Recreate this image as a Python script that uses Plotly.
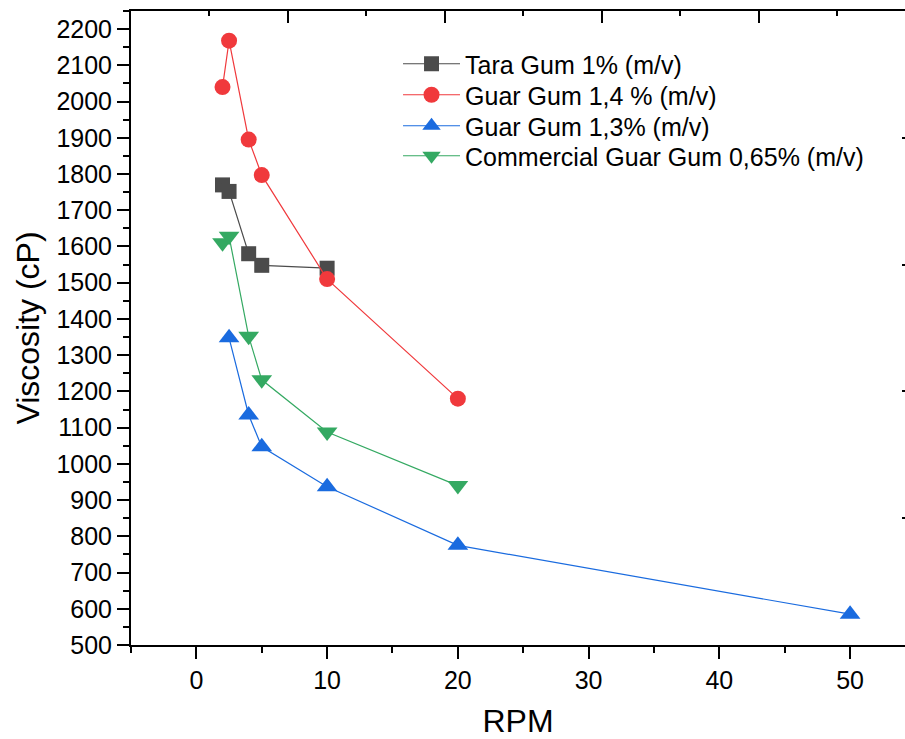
import plotly.graph_objects as go

# ---- data ----
tara_x = [2, 2.5, 4, 5, 10]
tara_y = [1770, 1752, 1580, 1548, 1540]

guar14_x = [2, 2.5, 4, 5, 10, 20]
guar14_y = [2040, 2168, 1895, 1797, 1510, 1180]

guar13_x = [2.5, 4, 5, 10, 20, 50]
guar13_y = [1348, 1135, 1047, 937, 775, 585]

comm_x = [2, 2.5, 4, 5, 10, 20]
comm_y = [1610, 1628, 1352, 1232, 1088, 940]

x_ticks = [0, 10, 20, 30, 40, 50]
y_ticks = list(range(500, 2201, 100))
top_major = [7, 19, 31, 43]
top_minor = [1, 13, 25, 37, 49]
right_ticks = [850, 1200, 1550, 1900]

XR = [-5, 54.2]
YR = [500, 2250]
FONT = "Liberation Sans, Arial, sans-serif"

fig = go.Figure()

series = [
    ("Tara Gum 1% (m/v)", tara_x, tara_y, "#4b4b4b", "square", 15, "legend"),
    ("Guar Gum 1,4 % (m/v)", guar14_x, guar14_y, "#F0393C", "circle", 16, "legend2"),
    ("Guar Gum 1,3% (m/v)", guar13_x, guar13_y, "#1A6BDF", "triangle-up", 18, "legend3"),
    ("Commercial Guar Gum 0,65% (m/v)", comm_x, comm_y, "#34A962", "triangle-down", 18, "legend4"),
]
for name, xs, ys, col, sym, sz, lg in series:
    fig.add_trace(go.Scatter(
        x=xs, y=ys, name=name, mode="lines+markers", legend=lg,
        line=dict(color=col, width=1.2),
        marker=dict(symbol=sym, size=sz, color=col, line=dict(width=0)),
    ))

# helper trace to activate secondary axes (top/right frame ticks)
fig.add_trace(go.Scatter(x=[], y=[], xaxis="x2", yaxis="y2", showlegend=False,
                         hoverinfo="skip"))

row_centers = [64, 95, 126, 156]  # legend row centres in px from top
plot_top, plot_h = 11, 634


def leg(yc):
    return dict(x=0.345, y=(plot_top + plot_h - yc) / plot_h, xanchor="left",
                yanchor="middle", bgcolor="rgba(0,0,0,0)",
                font=dict(size=25, family=FONT), itemwidth=57)


fig.update_layout(
    width=905, height=739,
    margin=dict(l=131, r=0, t=11, b=94),
    paper_bgcolor="white", plot_bgcolor="white",
    font=dict(family=FONT, color="black", size=25),
    showlegend=True,
    legend=leg(row_centers[0]),
    legend2=leg(row_centers[1]),
    legend3=leg(row_centers[2]),
    legend4=leg(row_centers[3]),
    xaxis=dict(
        range=XR, tickmode="array", tickvals=x_ticks,
        ticks="outside", ticklen=12, tickwidth=2, tickcolor="black",
        showline=True, linewidth=2, linecolor="black",
        showgrid=False, zeroline=False,
        tickfont=dict(size=25, family=FONT),
        minor=dict(dtick=5, tick0=-5, ticks="outside", ticklen=6, tickwidth=2,
                   tickcolor="black", showgrid=False),
        title=dict(text="RPM", font=dict(size=32, family=FONT), standoff=20),
    ),
    yaxis=dict(
        range=YR, tickmode="array", tickvals=y_ticks,
        ticks="outside", ticklen=12, tickwidth=2, tickcolor="black",
        showline=True, linewidth=2, linecolor="black",
        showgrid=False, zeroline=False,
        tickfont=dict(size=25, family=FONT),
        minor=dict(dtick=50, tick0=500, ticks="outside", ticklen=6, tickwidth=2,
                   tickcolor="black", showgrid=False),
        title=dict(text="Viscosity (cP)", font=dict(size=32, family=FONT), standoff=7),
    ),
    xaxis2=dict(
        range=XR, overlaying="x", side="top", anchor="y2",
        tickmode="array", tickvals=top_major, showticklabels=False,
        ticks="inside", ticklen=12, tickwidth=2, tickcolor="black",
        showline=True, linewidth=2, linecolor="black",
        showgrid=False, zeroline=False,
        minor=dict(tickmode="array", tickvals=top_minor, ticks="inside",
                   ticklen=5, tickwidth=2, tickcolor="black", showgrid=False),
    ),
    yaxis2=dict(
        range=YR, overlaying="y", side="right", anchor="x2",
        tickmode="array", tickvals=right_ticks, showticklabels=False,
        ticks="inside", ticklen=3, tickwidth=2, tickcolor="black",
        showline=False, showgrid=False, zeroline=False,
    ),
)

fig.write_html("out.html")
